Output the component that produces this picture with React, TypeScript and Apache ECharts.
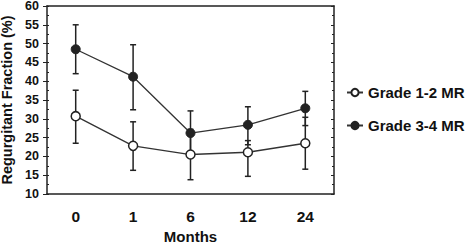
import React, { useEffect, useRef } from "react";
import * as echarts from "echarts";

const months = ["0", "1", "6", "12", "24"];
const grade12Mean = [30.7, 22.8, 20.5, 21.1, 23.5];
const grade12Low = [23.5, 16.3, 13.8, 14.7, 16.6];
const grade12High = [37.6, 29.2, 27.2, 24.2, 30.4];
const grade34Mean = [48.5, 41.2, 26.2, 28.4, 32.8];
const grade34Low = [42.0, 32.4, 20.3, 23.1, 28.2];
const grade34High = [55.0, 49.7, 32.1, 33.2, 37.3];
const yTicks = [10, 60, 5];

const FONT = "Liberation Sans, Arial, sans-serif";
const INK = "#222";

function errorSeries(name: string, low: number[], high: number[]) {
  return {
    type: "custom",
    name,
    z: 1,
    data: low.map((l, i) => [i, l, high[i]]),
    renderItem: (params: any, api: any) => {
      const x = api.value(0);
      const lo = api.coord([x, api.value(1)]);
      const hi = api.coord([x, api.value(2)]);
      const w = 3;
      const style = { stroke: INK, lineWidth: 1.5 };
      return {
        type: "group",
        children: [
          { type: "line", shape: { x1: lo[0], y1: lo[1], x2: hi[0], y2: hi[1] }, style },
          { type: "line", shape: { x1: lo[0] - w, y1: lo[1], x2: lo[0] + w, y2: lo[1] }, style },
          { type: "line", shape: { x1: hi[0] - w, y1: hi[1], x2: hi[0] + w, y2: hi[1] }, style },
        ],
      };
    },
  };
}

export default function App() {
  const ref = useRef<HTMLDivElement>(null);
  useEffect(() => {
    const chart = echarts.init(ref.current!, null, { renderer: "svg" });
    chart.setOption({
      animation: false,
      backgroundColor: "#fff",
      textStyle: { fontFamily: FONT },
      grid: { left: 47, right: 138, top: 6, bottom: 50, containLabel: false, outerBoundsMode: "none" },
      legend: {
        data: ["Grade 1-2 MR", "Grade 3-4 MR"],
        orient: "vertical",
        left: 341,
        top: 80,
        itemGap: 18,
        itemWidth: 16,
        itemHeight: 9,
        textStyle: { fontFamily: FONT, fontWeight: "bold", fontSize: 15, color: "#111" },
      },
      xAxis: [
        {
          type: "category",
          data: months,
          boundaryGap: true,
          position: "bottom",
          name: "Months",
          nameLocation: "middle",
          nameGap: 28,
          nameTextStyle: { fontFamily: FONT, fontWeight: "bold", fontSize: 15, color: "#111" },
          axisLine: { lineStyle: { color: INK, width: 1.5 } },
          axisTick: { alignWithLabel: true, length: 3, lineStyle: { color: INK } },
          axisLabel: { fontFamily: FONT, fontWeight: "bold", fontSize: 15.5, color: "#111", margin: 14 },
        },
        {
          type: "category",
          data: months,
          boundaryGap: true,
          position: "top",
          axisLine: { lineStyle: { color: INK, width: 1.5 } },
          axisTick: { alignWithLabel: true, length: 2, lineStyle: { color: INK } },
          axisLabel: { show: false },
        },
      ],
      yAxis: [
        {
          type: "value",
          min: yTicks[0],
          max: yTicks[1],
          interval: yTicks[2],
          name: "Regurgitant Fraction (%)",
          nameLocation: "middle",
          nameGap: 30,
          nameTextStyle: { fontFamily: FONT, fontWeight: "bold", fontSize: 14.5, color: "#111" },
          axisLine: { show: true, lineStyle: { color: INK, width: 1.5 } },
          axisTick: { show: true, length: 4, lineStyle: { color: INK } },
          splitLine: { show: false },
          axisLabel: { fontFamily: FONT, fontWeight: "bold", fontSize: 12.5, color: "#111", margin: 8 },
        },
        {
          type: "value",
          min: yTicks[0],
          max: yTicks[1],
          interval: yTicks[2],
          position: "right",
          axisLine: { show: true, lineStyle: { color: INK, width: 1.5 } },
          axisTick: { show: true, inside: true, length: 3, lineStyle: { color: INK } },
          minorTick: { show: true, splitNumber: 2, length: 2, lineStyle: { color: INK } },
          splitLine: { show: false },
          axisLabel: { show: false },
        },
        {
          type: "value",
          min: yTicks[0],
          max: yTicks[1],
          interval: yTicks[2] / 2,
          position: "left",
          axisLine: { show: false },
          axisTick: { show: true, inside: true, length: 2, lineStyle: { color: INK } },
          splitLine: { show: false },
          axisLabel: { show: false },
        },
      ],
      series: [
        errorSeries("err34", grade34Low, grade34High),
        errorSeries("err12", grade12Low, grade12High),
        {
          type: "line",
          name: "Grade 1-2 MR",
          data: grade12Mean,
          z: 3,
          symbol: "circle",
          symbolSize: 9,
          lineStyle: { color: "#333", width: 1.3 },
          itemStyle: { color: "#fff", borderColor: INK, borderWidth: 1.5 },
        },
        {
          type: "line",
          name: "Grade 3-4 MR",
          data: grade34Mean,
          z: 3,
          symbol: "circle",
          symbolSize: 9,
          lineStyle: { color: "#333", width: 1.3 },
          itemStyle: { color: INK, borderColor: INK, borderWidth: 1 },
        },
      ],
    });
    return () => chart.dispose();
  }, []);
  return <div ref={ref} style={{ width: 472, height: 244, position: "fixed", left: 0, top: 0 }} />;
}
